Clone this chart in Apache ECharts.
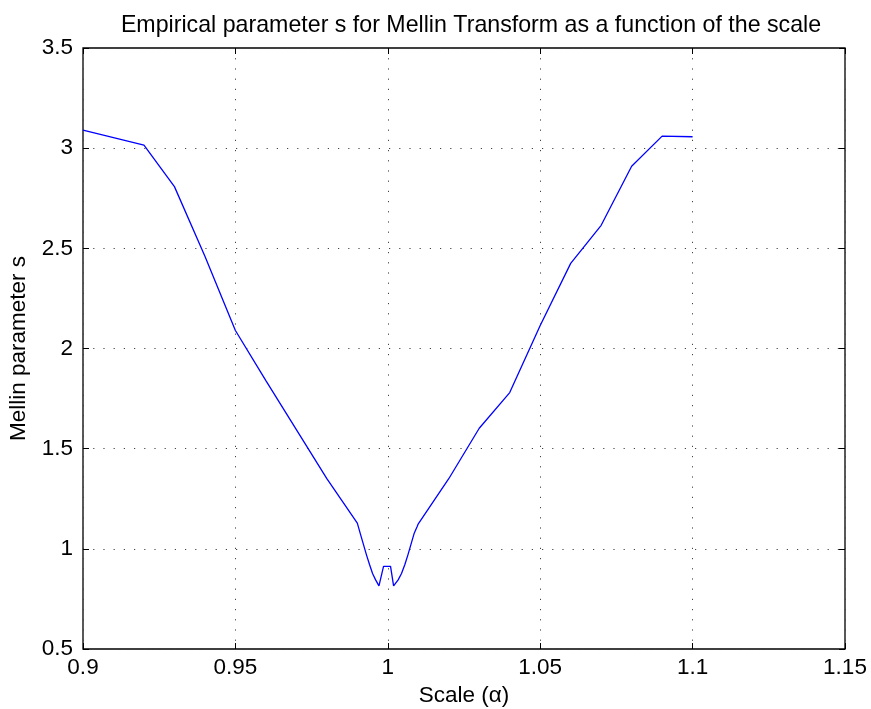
<!DOCTYPE html>
<html>
<head>
<meta charset="utf-8">
<script src="https://cdn.jsdelivr.net/npm/echarts@6/dist/echarts.min.js"></script>
<style>
  html, body { margin: 0; padding: 0; background: #fff; }
  #chart { width: 871px; height: 709px; }
</style>
</head>
<body>
<div id="chart"></div>
<script>
// Scale values (alpha) and the matching empirical Mellin parameter s
const scaleValues = [
  0.90, 0.92, 0.93, 0.94, 0.95, 0.96, 0.97, 0.98, 0.99,
  0.991, 0.992, 0.993, 0.994, 0.995, 0.996, 0.9971, 0.9976,
  0.9986, 1.0009, 1.0019, 1.0024,
  1.0034, 1.0045, 1.0056, 1.0066, 1.0076, 1.0086, 1.0096, 1.01,
  1.02, 1.03, 1.04, 1.05, 1.06, 1.07, 1.08, 1.09, 1.10
];
const mellinS = [
  3.09, 3.015, 2.808, 2.46, 2.09, 1.84, 1.595, 1.35, 1.128,
  1.075, 1.022, 0.97, 0.922, 0.877, 0.845, 0.815, 0.815,
  0.912, 0.912, 0.815, 0.815,
  0.845, 0.877, 0.922, 0.97, 1.022, 1.075, 1.11, 1.125,
  1.35, 1.602, 1.78, 2.115, 2.425, 2.615, 2.91, 3.06, 3.057
];
const xTicks = [0.9, 0.95, 1.0, 1.05, 1.1, 1.15];
const yTicks = [0.5, 1, 1.5, 2, 2.5, 3, 3.5];

const FONT = '"Liberation Sans", Arial, Helvetica, sans-serif';
const FS = 22.5;
const points = scaleValues.map((x, i) => [x, mellinS[i]]);

const gridDots = { show: true, lineStyle: { color: '#444', width: 1, type: [1.2, 9] } };
const tickIn = { show: true, inside: true, length: 6, lineStyle: { color: '#000', width: 1 } };

const chart = echarts.init(document.getElementById('chart'), null, { renderer: 'canvas' });
chart.setOption({
  animation: false,
  backgroundColor: '#fff',
  title: {
    text: 'Empirical parameter s for Mellin Transform as a function of the scale',
    left: 466, top: 9, textAlign: 'center',
    textStyle: { fontFamily: FONT, fontSize: 23.2, fontWeight: 'normal', color: '#000' }
  },
  grid: {
    left: 83, right: 26, top: 48, bottom: 60,
    outerBoundsMode: 'none', containLabel: false,
    show: true, borderColor: '#000', borderWidth: 1.3
  },
  xAxis: [{
    type: 'value', min: 0.9, max: 1.15, interval: 0.05,
    name: 'Scale (α)', nameLocation: 'middle', nameGap: 34,
    nameTextStyle: { fontFamily: FONT, fontSize: FS, color: '#000' },
    axisLine: { show: false },
    axisTick: tickIn,
    splitLine: gridDots,
    axisLabel: {
      fontFamily: FONT, fontSize: FS, color: '#000', margin: 7,
      formatter: v => xTicks.includes(+v.toFixed(2)) ? String(+v.toFixed(2)) : ''
    }
  }, {
    type: 'value', position: 'top', min: 0.9, max: 1.15, interval: 0.05,
    axisLine: { show: false }, axisTick: tickIn, axisLabel: { show: false }, splitLine: { show: false }
  }],
  yAxis: [{
    type: 'value', min: 0.5, max: 3.5, interval: 0.5,
    name: 'Mellin parameter s', nameLocation: 'middle', nameGap: 53, nameRotate: 90,
    nameTextStyle: { fontFamily: FONT, fontSize: FS, color: '#000' },
    axisLine: { show: false },
    axisTick: tickIn,
    splitLine: gridDots,
    axisLabel: {
      fontFamily: FONT, fontSize: FS, color: '#000', margin: 10,
      formatter: v => yTicks.includes(v) ? String(v) : ''
    }
  }, {
    type: 'value', position: 'right', min: 0.5, max: 3.5, interval: 0.5,
    axisLine: { show: false }, axisTick: tickIn, axisLabel: { show: false }, splitLine: { show: false }
  }],
  series: [{
    type: 'line',
    data: points,
    xAxisIndex: 0, yAxisIndex: 0,
    showSymbol: false, symbol: 'none',
    lineStyle: { color: '#0000ff', width: 1.3 },
    z: 5
  }]
});
</script>
</body>
</html>
